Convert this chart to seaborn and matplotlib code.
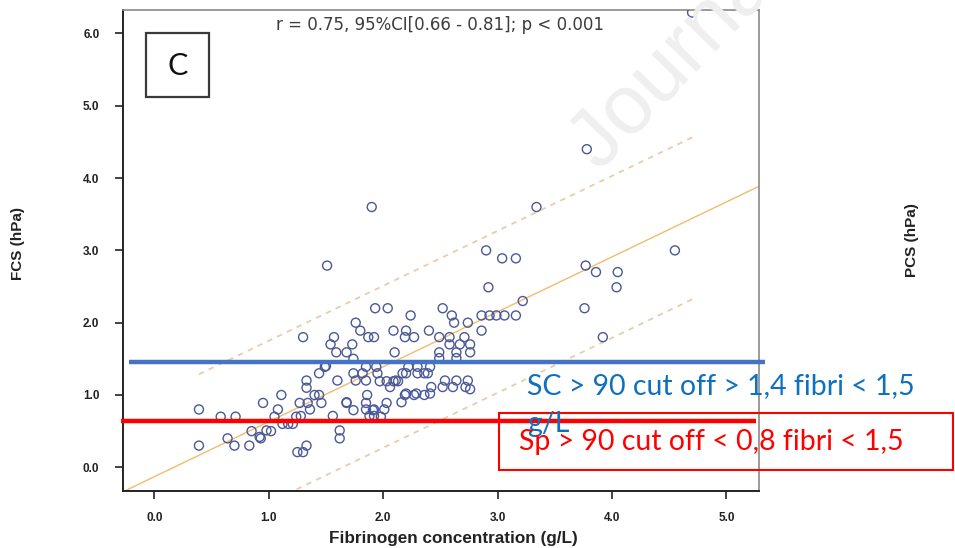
import matplotlib
matplotlib.use("Agg")
import matplotlib.pyplot as plt
import numpy as np
import pandas as pd
import seaborn as sns
from matplotlib.patches import Rectangle

# Fibrinogen concentration (g/L) and FCS (hPa) for each sample
fibrinogen = [
    4.70, 3.78, 1.90, 3.34, 1.51, 4.55, 3.77, 3.86, 4.05, 4.04, 3.92, 3.76,
    3.22, 3.04, 2.90, 3.16, 2.92, 3.16, 2.52, 2.24, 2.60, 2.62, 2.74, 2.86,
    2.93, 2.99, 3.06, 2.86, 2.40, 2.20, 2.19, 2.27, 2.49, 2.58, 2.71, 2.58,
    2.67, 2.76, 2.49, 2.64, 2.76, 2.49, 2.64,
    1.93, 2.04, 1.76, 1.80, 2.09, 1.87, 1.92, 1.57, 1.30, 1.54, 1.73, 1.59,
    1.68, 2.10, 1.74,
    1.49, 1.44, 1.33, 1.60, 1.74, 1.82, 1.76, 1.85, 1.85, 1.94, 2.22, 2.30,
    2.41, 1.95, 2.20, 2.30, 2.39, 1.97, 2.03, 2.11, 2.42, 2.54, 2.64, 2.74,
    2.52, 2.61, 1.33, 2.72, 2.20, 2.29, 2.41, 2.09, 2.13, 2.06, 2.17, 2.36,
    1.50, 2.76,
    1.11, 1.40, 1.44, 0.95, 1.27, 1.34, 1.46, 1.68, 1.85, 2.03, 2.16, 1.08,
    1.36, 1.74, 1.85, 1.92, 2.01, 1.24, 1.28, 1.56, 1.88, 1.92, 1.98, 1.05,
    1.12, 1.17, 1.21, 0.98, 1.02, 0.93, 1.62, 1.62, 1.33, 1.25, 1.30, 0.39,
    0.58, 0.71, 0.85, 0.64, 0.39, 0.70, 0.83, 0.92, 1.86, 2.19, 2.27, 2.36,
    1.91, 1.68,
]
fcs = [
    6.29, 4.40, 3.60, 3.60, 2.79, 3.00, 2.79, 2.70, 2.70, 2.49, 1.80, 2.20,
    2.30, 2.89, 3.00, 2.89, 2.49, 2.10, 2.20, 2.10, 2.10, 2.00, 2.00, 2.10,
    2.10, 2.10, 2.10, 1.89, 1.89, 1.89, 1.80, 1.80, 1.80, 1.80, 1.80, 1.70,
    1.70, 1.70, 1.59, 1.59, 1.59, 1.51, 1.51,
    2.20, 2.20, 2.00, 1.89, 1.89, 1.80, 1.80, 1.80, 1.80, 1.70, 1.70, 1.59,
    1.59, 1.59, 1.50,
    1.39, 1.30, 1.20, 1.20, 1.30, 1.30, 1.20, 1.20, 1.39, 1.39, 1.39, 1.39,
    1.39, 1.30, 1.30, 1.30, 1.30, 1.19, 1.19, 1.20, 1.11, 1.20, 1.20, 1.20,
    1.11, 1.11, 1.10, 1.11, 1.02, 1.02, 1.02, 1.19, 1.19, 1.11, 1.30, 1.30,
    1.40, 1.08,
    1.00, 1.00, 1.00, 0.89, 0.89, 0.89, 0.89, 0.89, 0.89, 0.89, 0.90, 0.80,
    0.80, 0.79, 0.80, 0.80, 0.80, 0.70, 0.71, 0.71, 0.71, 0.71, 0.70, 0.70,
    0.60, 0.60, 0.60, 0.51, 0.50, 0.40, 0.51, 0.40, 0.30, 0.21, 0.21, 0.80,
    0.70, 0.70, 0.50, 0.40, 0.30, 0.30, 0.30, 0.42, 1.00, 1.00, 1.00, 1.00,
    0.79, 0.90,
]

# Regression line and 95% prediction band
fit_intercept = -0.13
fit_slope = 0.76
band_halfwidth = 1.12
band_x = [0.39, 4.71]

x_ticks = [0.0, 1.0, 2.0, 3.0, 4.0, 5.0]
y_ticks = [0.0, 1.0, 2.0, 3.0, 4.0, 5.0, 6.0]
x_limits = (-0.274, 5.285)
y_limits = (-0.328, 6.325)

# Cut-off thresholds drawn across the panel
sc_cutoff = 1.45
sp_cutoff = 0.645
sc_span = (-0.219, 5.335)
sp_span = (-0.294, 5.258)

stat_text = "r = 0.75, 95%CI[0.66 - 0.81]; p < 0.001"
sc_text_line1 = "SC > 90 cut off > 1,4 fibri < 1,5"
sc_text_line2 = "g/L"
sp_text = "Sp > 90 cut off < 0,8 fibri < 1,5"
panel_label = "C"
x_label = "Fibrinogen concentration (g/L)"
y_label = "FCS (hPa)"
right_label = "PCS (hPa)"
watermark = "Journal Pre-proof"

df = pd.DataFrame({"fibrinogen": fibrinogen, "fcs": fcs})

sns.set_theme(style="white")
plt.rcParams["font.family"] = ["Liberation Sans", "DejaVu Sans"]

W, H = 955, 548
fig = plt.figure(figsize=(W / 100, H / 100), dpi=100)
fig.patch.set_facecolor("white")


def fx(px):
    return px / W


def fy(py):
    return 1 - py / H


ax = fig.add_axes([fx(123), fy(491), (759 - 123) / W, (491 - 10) / H])
ax.set_facecolor("none")

# faint page watermark
fig.text(fx(600), fy(172), watermark, rotation=46, rotation_mode="anchor",
         ha="left", va="baseline", fontsize=60, color="#efefef",
         family=["Liberation Sans"], zorder=0)

# regression line across the full width, dashed prediction band
xs = np.array(x_limits)
ax.plot(xs, fit_intercept + fit_slope * xs, color="#f0bc6c", lw=1.0, zorder=1)
bx = np.array(band_x)
for sgn in (1, -1):
    ax.plot(bx, fit_intercept + fit_slope * bx + sgn * band_halfwidth,
            color="#ebcca6", lw=1.3, dashes=(3, 3), zorder=1)

sns.scatterplot(data=df, x="fibrinogen", y="fcs", ax=ax, marker="o", s=42,
                facecolor="none", edgecolor="#4a5897", linewidth=1.0,
                zorder=3)

ax.set_xlim(*x_limits)
ax.set_ylim(*y_limits)
ax.set_xticks(x_ticks)
ax.set_yticks(y_ticks)
ax.set_xticklabels([f"{v:.1f}" for v in x_ticks], fontsize=8.5,
                   fontweight="bold", color="#222222")
ax.set_yticklabels([f"{v:.1f}" for v in y_ticks], fontsize=8.5,
                   fontweight="bold", color="#222222")
ax.tick_params(axis="both", direction="out", length=6, width=1.2,
               color="#222222", bottom=True, left=True)
ax.tick_params(axis="y", pad=11)
ax.tick_params(axis="x", pad=9)
ax.set_xlabel("")
ax.set_ylabel("")
for side in ("left", "bottom"):
    ax.spines[side].set_color("#222222")
    ax.spines[side].set_linewidth(1.4)
for side in ("top", "right"):
    ax.spines[side].set_color("#8a8a8a")
    ax.spines[side].set_linewidth(1.2)

# axis titles
fig.text(fx(453), fy(538), x_label, ha="center", va="center", fontsize=12.3,
         fontweight="bold", color="#222222")
fig.text(fx(18), fy(244), y_label, ha="center", va="center", rotation=90,
         fontsize=11, fontweight="bold", color="#222222")
fig.text(fx(912), fy(240), right_label, ha="center", va="center", rotation=90,
         fontsize=11, fontweight="bold", color="#222222")

# correlation summary
fig.text(fx(439.5), fy(25), stat_text, ha="center", va="center", fontsize=12,
         color="#3c3c3c", family=["DejaVu Sans"])

# panel label in a box
fig.patches.append(Rectangle((fx(145.7), fy(97.3)), (209.3 - 145.7) / W,
                             (97.3 - 33.3) / H, transform=fig.transFigure,
                             fill=False, edgecolor="#3a3a3a", lw=1.6))
fig.text(fx(177.5), fy(66), panel_label, ha="center", va="center",
         fontsize=22, color="#111111", family=["Lato"])

# cut-off lines
ax.plot(sc_span, [sc_cutoff, sc_cutoff], color="#4472c4", lw=3.2,
        clip_on=False, solid_capstyle="butt", zorder=5)
ax.plot(sp_span, [sp_cutoff, sp_cutoff], color="#ff0000", lw=3.2,
        clip_on=False, solid_capstyle="butt", zorder=5)

fig.text(fx(527.4), fy(394.3), sc_text_line1, ha="left", va="baseline",
         fontsize=20.5, color="#0f70c0", family=["Lato"])
fig.text(fx(527.4), fy(431.7), sc_text_line2, ha="left", va="baseline",
         fontsize=20.5, color="#0f70c0", family=["Lato"])
fig.patches.append(Rectangle((fx(499), fy(470)), (953 - 499) / W,
                             (470 - 413) / H, transform=fig.transFigure,
                             fill=False, edgecolor="#ff0000", lw=1.5))
fig.text(fx(518.6), fy(450), sp_text, ha="left", va="baseline",
         fontsize=20.5, color="#ff0000", family=["Lato"])

fig.savefig("out.png", dpi=100, facecolor="white")
